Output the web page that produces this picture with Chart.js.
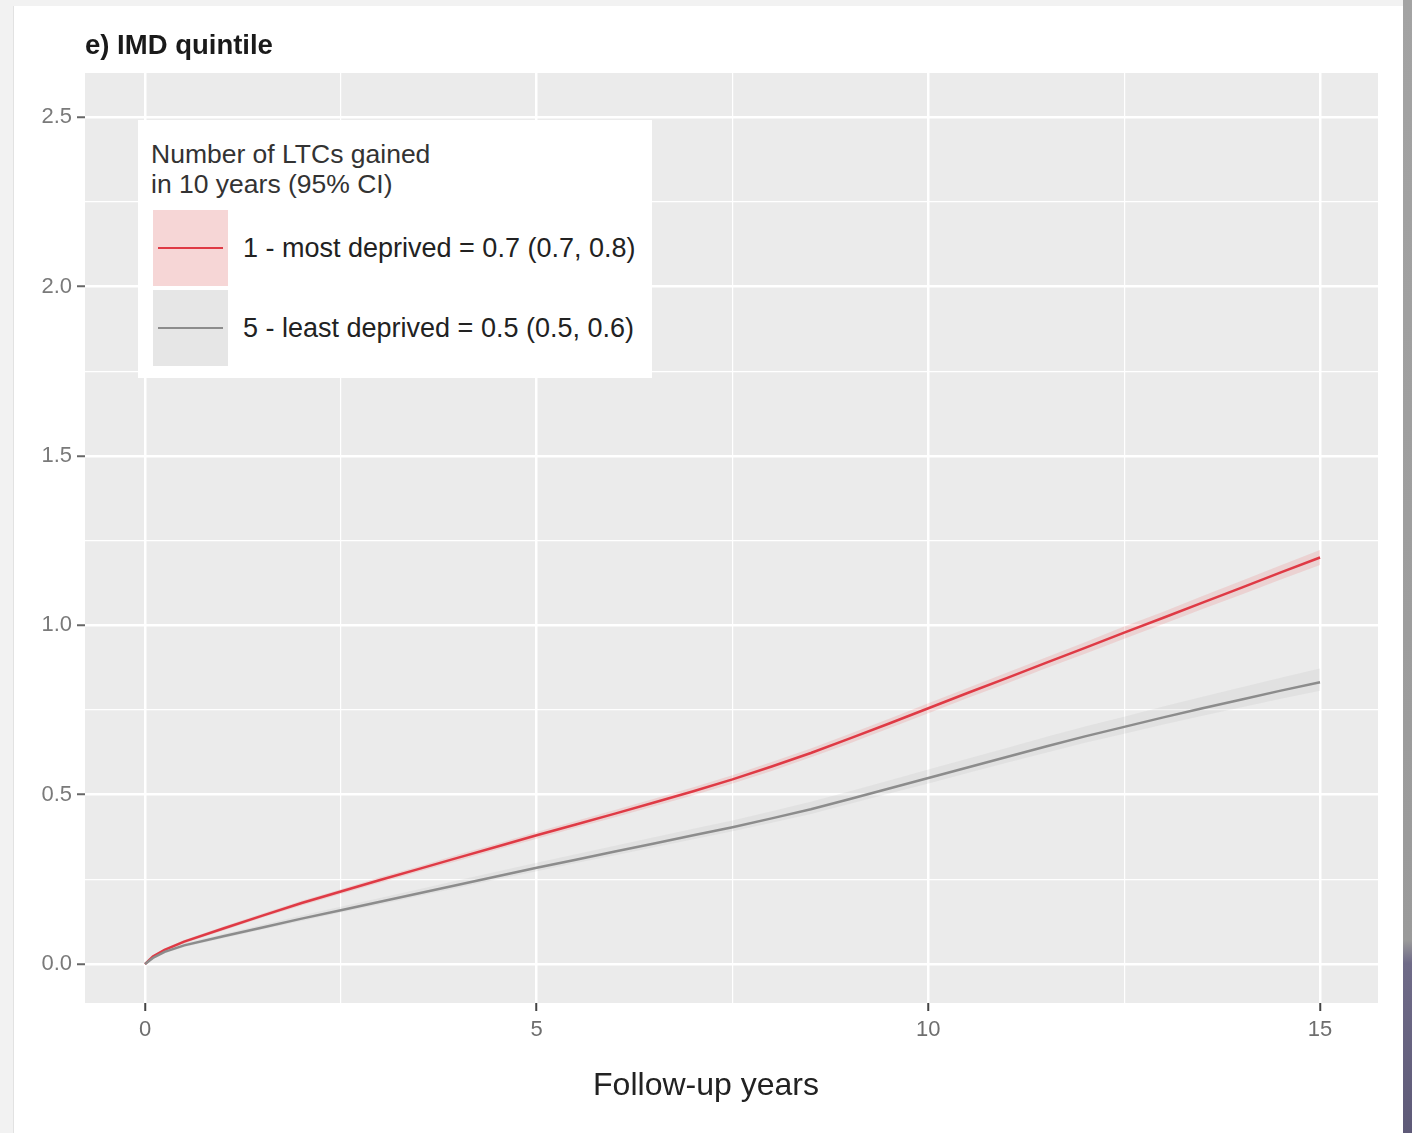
<!DOCTYPE html>
<html lang="en">
<head>
  <meta charset="UTF-8">
  <title>e) IMD quintile</title>
  <script src="https://cdn.jsdelivr.net/npm/chart.js"></script>
  <style>
    body {
      margin: 0;
      width: 1412px;
      height: 1133px;
      background: #f2f2f2;
      font-family: "Liberation Sans", Arial, sans-serif;
      position: relative;
      overflow: hidden;
    }
    #card {
      position: absolute;
      left: 13px; top: 6px; width: 1390px; height: 1127px;
      background: #fff;
      border-left: 1px solid #e2e2e2;
    }
    #edge {
      position: absolute;
      left: 1403px; top: 0; width: 9px; height: 1133px;
      background: linear-gradient(to bottom, #a3a3a3 0%, #9a9a9a 83%, #6f6b88 85%, #5e5a78 100%);
    }
    canvas { position: absolute; left: 0; top: 0; }
    #title {
      position: absolute; left: 85px; top: 29px;
      font-weight: bold; font-size: 27.5px; color: #1a1a1a;
    }
    #legend {
      position: absolute; left: 138px; top: 120px; width: 514px; height: 258px;
      background: #fff; color: #333;
    }
    #legend .ttl { position: absolute; left: 13px; top: 19px; font-size: 26.5px; line-height: 30px; }
    #legend .key { position: absolute; left: 15px; width: 75px; height: 76px; }
    #legend .key i { position: absolute; left: 5px; right: 5px; top: 37px; height: 2px; }
    #legend .lab { position: absolute; left: 105px; font-size: 27px; color: #222; }
    #xtitle {
      position: absolute; left: 706px; top: 1066px; transform: translateX(-50%);
      font-size: 32px; color: #222; white-space: nowrap;
    }
  </style>
</head>
<body>
  <div id="card"></div>
  <div id="edge"></div>
  <canvas id="chart" width="1412" height="1133"></canvas>
  <div id="title">e) IMD quintile</div>
  <div id="legend">
    <div class="ttl">Number of LTCs gained<br>in 10 years (95% CI)</div>
    <div class="key" style="top:90px;background:#f6d6d6"><i style="background:#df3a45"></i></div>
    <div class="key" style="top:170px;background:#e6e6e6"><i style="background:#8c8c8c"></i></div>
    <div class="lab" style="top:113px">1 - most deprived = 0.7 (0.7, 0.8)</div>
    <div class="lab" style="top:193px">5 - least deprived = 0.5 (0.5, 0.6)</div>
  </div>
  <div id="xtitle">Follow-up years</div>

  <script>
    // follow-up years
    const years = [0, 0.1, 0.25, 0.5, 1, 1.5, 2, 2.5, 3, 3.5, 4, 4.5, 5, 5.5, 6, 6.5, 7, 7.5,
                   8, 8.5, 9, 9.5, 10, 10.5, 11, 11.5, 12, 12.5, 13, 13.5, 14, 14.5, 15];

    // 1 - most deprived
    const redMean = [0, 0.022, 0.042, 0.066, 0.105, 0.143, 0.18, 0.214, 0.248, 0.281, 0.314, 0.347, 0.38, 0.412, 0.444, 0.477, 0.51, 0.545,
                     0.583, 0.623, 0.666, 0.71, 0.755, 0.8, 0.844, 0.889, 0.933, 0.978, 1.022, 1.067, 1.111, 1.156, 1.2];
    const redLow = [0, 0.019, 0.038, 0.061, 0.099, 0.137, 0.173, 0.207, 0.24, 0.273, 0.305, 0.338, 0.37, 0.402, 0.433, 0.466, 0.498, 0.533,
                    0.57, 0.61, 0.652, 0.696, 0.74, 0.785, 0.828, 0.873, 0.916, 0.96, 1.004, 1.048, 1.091, 1.135, 1.178];
    const redHigh = [0, 0.025, 0.046, 0.071, 0.111, 0.149, 0.187, 0.221, 0.256, 0.289, 0.323, 0.356, 0.39, 0.422, 0.455, 0.488, 0.522, 0.557,
                     0.596, 0.636, 0.68, 0.724, 0.77, 0.815, 0.86, 0.905, 0.95, 0.996, 1.04, 1.086, 1.131, 1.177, 1.222];

    // 5 - least deprived
    const greyMean = [0, 0.018, 0.036, 0.055, 0.082, 0.108, 0.134, 0.159, 0.184, 0.209, 0.234, 0.259, 0.284, 0.308, 0.332, 0.356, 0.38, 0.404,
                      0.43, 0.457, 0.487, 0.518, 0.549, 0.58, 0.611, 0.642, 0.672, 0.7, 0.728, 0.755, 0.781, 0.807, 0.832];
    const greyLow = [0, 0.015, 0.032, 0.05, 0.076, 0.102, 0.127, 0.152, 0.176, 0.201, 0.225, 0.25, 0.274, 0.298, 0.321, 0.345, 0.368, 0.392,
                     0.417, 0.443, 0.473, 0.503, 0.533, 0.564, 0.594, 0.624, 0.653, 0.68, 0.707, 0.733, 0.758, 0.783, 0.807];
    const greyHigh = [0, 0.021, 0.041, 0.061, 0.089, 0.116, 0.143, 0.169, 0.195, 0.221, 0.247, 0.273, 0.299, 0.324, 0.349, 0.374, 0.399, 0.424,
                      0.451, 0.479, 0.51, 0.542, 0.574, 0.606, 0.638, 0.67, 0.701, 0.73, 0.76, 0.789, 0.817, 0.845, 0.872];

    // gridline positions (major ones get a label)
    const xTicks = [0, 2.5, 5, 7.5, 10, 12.5, 15];
    const yTicks = [0, 0.25, 0.5, 0.75, 1, 1.25, 1.5, 1.75, 2, 2.25, 2.5];

    const toXY = arr => arr.map((v, i) => ({ x: years[i], y: v }));

    const isMajorX = v => Math.abs(v / 5 - Math.round(v / 5)) < 1e-6;
    const isMajorY = v => Math.abs(v * 2 - Math.round(v * 2)) < 1e-6;

    // ggplot-style grey panel
    const panelBg = {
      id: 'panelBg',
      beforeDraw(chart) {
        const a = chart.chartArea, c = chart.ctx;
        c.save();
        c.fillStyle = '#ebebeb';
        c.fillRect(a.left, a.top, a.right - a.left, a.bottom - a.top);
        c.restore();
      }
    };

    const line = (data, color) => ({
      data: toXY(data), borderColor: color, borderWidth: 2.5,
      pointRadius: 0, fill: false, tension: 0, order: 0
    });
    const band = (data, fill, bg) => ({
      data: toXY(data), borderWidth: 0, borderColor: 'transparent',
      backgroundColor: bg, pointRadius: 0, fill: fill, tension: 0, order: 5
    });

    const ctx = document.getElementById('chart').getContext('2d');
    new Chart(ctx, {
      type: 'line',
      data: {
        datasets: [
          band(greyLow, false, 'transparent'),
          band(greyHigh, 0, 'rgba(175,175,175,0.16)'),
          band(redLow, false, 'transparent'),
          band(redHigh, 2, 'rgba(235,80,80,0.16)'),
          line(greyMean, '#8c8c8c'),
          line(redMean, '#df3a45')
        ]
      },
      options: {
        responsive: false,
        animation: false,
        events: [],
        layout: { padding: { left: 0, top: 73, right: 34, bottom: 0 } },
        plugins: { legend: { display: false }, tooltip: { enabled: false } },
        scales: {
          x: {
            type: 'linear',
            min: -0.766, max: 15.74,
            afterFit: s => { s.height = 130; },
            afterBuildTicks: s => { s.ticks = xTicks.map(v => ({ value: v })); },
            border: { display: false },
            grid: {
              color: '#ffffff',
              lineWidth: c => isMajorX(c.tick.value) ? 2.5 : 1.2,
              tickColor: c => isMajorX(c.tick.value) ? '#444' : 'rgba(0,0,0,0)',
              tickLength: 8,
              tickWidth: 2
            },
            ticks: {
              autoSkip: false, maxRotation: 0,
              padding: 6, color: '#6e6e6e',
              font: { family: '"Liberation Sans", Arial', size: 22 },
              callback: v => isMajorX(v) ? String(Math.round(v)) : ''
            }
          },
          y: {
            min: -0.115, max: 2.63,
            afterFit: s => { s.width = 85; },
            afterBuildTicks: s => { s.ticks = yTicks.map(v => ({ value: v })); },
            border: { display: false },
            grid: {
              color: '#ffffff',
              lineWidth: c => isMajorY(c.tick.value) ? 2.5 : 1.2,
              tickColor: c => isMajorY(c.tick.value) ? '#666' : 'rgba(0,0,0,0)',
              tickLength: 8,
              tickWidth: 2
            },
            ticks: {
              autoSkip: false,
              padding: 5, color: '#7a7a7a',
              font: { family: '"Liberation Sans", Arial', size: 22 },
              callback: v => isMajorY(v) ? v.toFixed(1) : ''
            }
          }
        }
      },
      plugins: [panelBg]
    });
  </script>
</body>
</html>
